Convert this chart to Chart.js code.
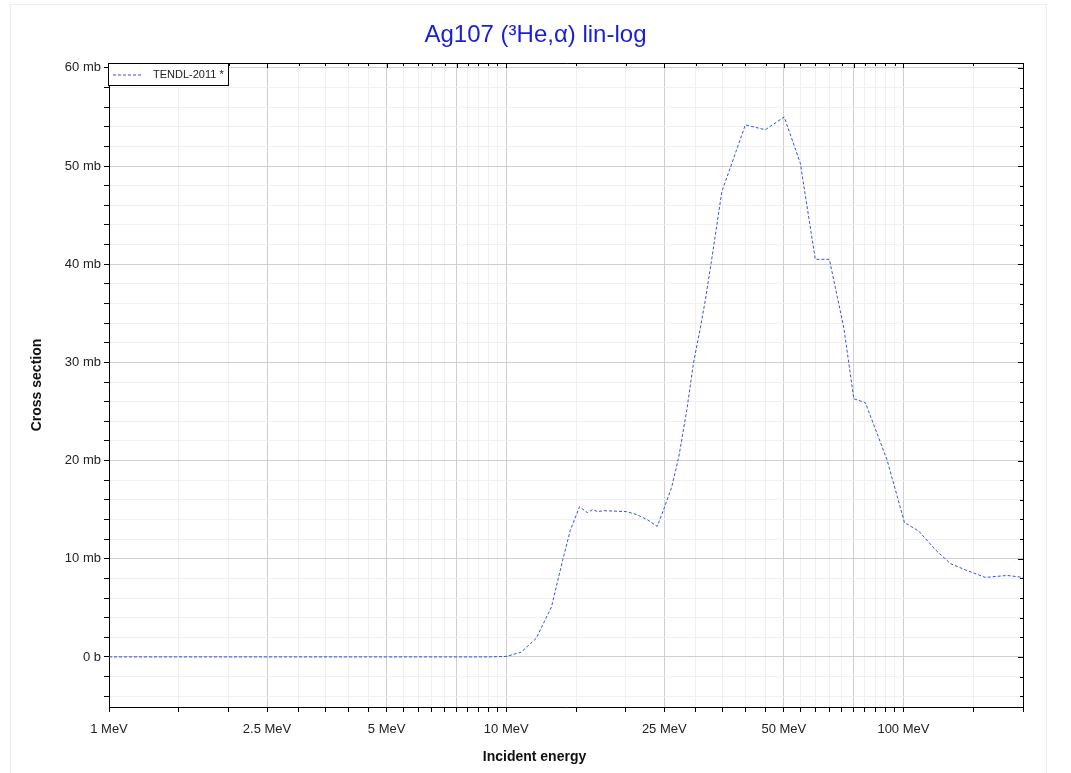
<!DOCTYPE html>
<html>
<head>
<meta charset="utf-8">
<script src="https://cdn.jsdelivr.net/npm/chart.js@4.4.7/dist/chart.umd.min.js"></script>
<style>
  html, body { margin: 0; padding: 0; background: #fff; }
  canvas { display: block; }
</style>
</head>
<body>
<canvas id="chart" width="1071" height="773"></canvas>
<script>
// incident energy (MeV) and cross section (mb)
const energies = [1, 2, 3, 4, 5, 6, 7, 8, 9, 10, 10.9, 11.9, 13.0, 13.9, 14.5, 15.3, 16.0, 16.5, 17.0, 17.6,
  20.1, 21.3, 22.6, 24.0, 24.9, 26.1, 27.2, 28.5, 29.6, 30.8, 31.7, 32.8, 34.9, 37.0, 40.0, 44.9, 50.1,
  55.0, 60.0, 65.1, 70.8, 75.0, 80.2, 90.9, 100.6, 109.4, 120.5, 131.3, 144.6, 160.9, 182.6, 200];
const crossSection = [0, 0, 0, 0, 0, 0, 0, 0, 0, 0.05, 0.48, 1.9, 5.1, 10.0, 12.9, 15.3, 14.7, 15.0, 14.8, 14.9,
  14.8, 14.5, 14.0, 13.3, 15.0, 17.3, 20.4, 25.2, 29.9, 33.5, 36.3, 40.1, 47.4, 50.3, 54.2, 53.7, 55.0,
  50.3, 40.5, 40.5, 33.5, 26.3, 25.9, 20.1, 13.7, 12.8, 10.9, 9.5, 8.8, 8.1, 8.3, 8.1];

// x ticks (MeV)
const xTicks = [1, 1.5, 2, 2.5, 3, 3.5, 4, 4.5, 5, 5.5, 6, 6.5, 7, 7.5, 8, 8.5, 9, 9.5,
  10, 15, 20, 25, 30, 35, 40, 45, 50, 55, 60, 65, 70, 75, 80, 85, 90, 95, 100, 150, 200];
const xMajor = [1, 2.5, 5, 7.5, 10, 25, 50, 75, 100];
const xLabeled = [1, 2.5, 5, 10, 25, 50, 100];

// y ticks (mb)
const yTicks = [-4, -2, 0, 2, 4, 6, 8, 10, 12, 14, 16, 18, 20, 22, 24, 26, 28, 30, 32, 34, 36, 38,
  40, 42, 44, 46, 48, 50, 52, 54, 56, 58, 60];
const yLabeled = [0, 10, 20, 30, 40, 50, 60];

const seriesName = 'TENDL-2011 *';
const lineColor = 'rgb(50, 85, 230)';
const font = 'Arial, "Liberation Sans", sans-serif';

const frame = {
  id: 'frame',
  beforeDraw(chart) {
    const ctx = chart.ctx;
    ctx.save();
    ctx.fillStyle = '#fff';
    ctx.fillRect(0, 0, chart.width, chart.height);
    ctx.strokeStyle = '#ececec';
    ctx.lineWidth = 1;
    ctx.strokeRect(10.5, 4.5, 1036, 800);
    ctx.restore();
  },
  afterDraw(chart) {
    const ctx = chart.ctx;
    const a = chart.chartArea;
    const xs = chart.scales.x, ys = chart.scales.y;
    ctx.save();
    ctx.strokeStyle = '#000';
    ctx.lineWidth = 1;
    ctx.beginPath();
    ctx.moveTo(a.left, a.top + 0.5);
    ctx.lineTo(a.right + 0.5, a.top + 0.5);
    ctx.lineTo(a.right + 0.5, a.bottom);
    ctx.stroke();
    // inward ticks on top and right
    ctx.beginPath();
    xTicks.forEach(v => {
      const px = Math.round(xs.getPixelForValue(v)) + 0.5;
      const len = xMajor.includes(v) ? 5 : 3;
      ctx.moveTo(px, a.top);
      ctx.lineTo(px, a.top + len);
    });
    yTicks.forEach(v => {
      const py = Math.round(ys.getPixelForValue(v)) + 0.5;
      const len = yLabeled.includes(v) ? 5 : 3;
      ctx.moveTo(a.right, py);
      ctx.lineTo(a.right - len, py);
    });
    ctx.stroke();

    // x axis title, centred on the page like the original
    ctx.fillStyle = '#111';
    ctx.font = 'bold 14px ' + font;
    ctx.textAlign = 'center';
    ctx.textBaseline = 'middle';
    ctx.fillText('Incident energy', chart.width / 2 - 1, 757);

    // legend box
    const bx = a.left - 0.5, by = a.top + 0.5, bw = 120, bh = 22;
    ctx.fillStyle = '#fff';
    ctx.fillRect(bx, by, bw, bh);
    ctx.strokeStyle = '#000';
    ctx.strokeRect(bx, by, bw, bh);
    ctx.strokeStyle = lineColor;
    ctx.setLineDash([3, 2]);
    ctx.beginPath();
    ctx.moveTo(a.left + 4, by + 11.5);
    ctx.lineTo(a.left + 34, by + 11.5);
    ctx.stroke();
    ctx.setLineDash([]);
    ctx.fillStyle = '#222';
    ctx.font = '11px ' + font;
    ctx.textAlign = 'left';
    ctx.fillText(seriesName, a.left + 44, by + 11.5);
    ctx.restore();
  }
};

new Chart(document.getElementById('chart'), {
  type: 'line',
  data: {
    datasets: [{
      label: seriesName,
      data: energies.map((e, i) => ({ x: e, y: crossSection[i] })),
      borderColor: lineColor,
      borderWidth: 1,
      borderDash: [3, 2],
      pointRadius: 0,
      fill: false,
      tension: 0
    }]
  },
  options: {
    responsive: false,
    animation: false,
    layout: { padding: 0 },
    plugins: {
      legend: { display: false },
      tooltip: { enabled: false },
      title: {
        display: true,
        text: 'Ag107 (³He,α) lin-log',
        color: 'rgb(25, 30, 215)',
        font: { family: font, size: 24, weight: 'normal', lineHeight: 1.2 },
        padding: { top: 21, bottom: 13.2 }
      }
    },
    scales: {
      x: {
        type: 'logarithmic',
        min: 1,
        max: 200,
        afterBuildTicks: s => { s.ticks = xTicks.map(v => ({ value: v })); },
        afterFit: s => { s.height = 66; },
        ticks: {
          autoSkip: false,
          maxRotation: 0,
          padding: 10,
          color: '#222',
          font: { family: font, size: 13 },
          callback: v => xLabeled.includes(v) ? v + ' MeV' : ''
        },
        grid: {
          color: c => xMajor.includes(c.tick && c.tick.value) ? '#cfcfcf' : '#f0f0f0',
          tickColor: '#000',
          tickLength: 5
        },
        border: { color: '#000', width: 1 }
      },
      y: {
        type: 'linear',
        min: -5.1,
        max: 60.5,
        afterBuildTicks: s => { s.ticks = yTicks.map(v => ({ value: v })); },
        afterFit: s => { s.width = 109; },
        ticks: {
          autoSkip: false,
          padding: 3,
          color: '#222',
          font: { family: font, size: 13 },
          callback: v => yLabeled.includes(v) ? (v === 0 ? '0 b' : v + ' mb') : ''
        },
        grid: {
          color: c => yLabeled.includes(c.tick && c.tick.value) ? '#cfcfcf' : '#f0f0f0',
          tickColor: '#000',
          tickLength: 5
        },
        border: { color: '#000', width: 1 },
        title: {
          display: true,
          text: 'Cross section',
          color: '#111',
          font: { family: font, size: 14, weight: 'bold' },
          padding: { top: 29, bottom: 0 }
        }
      },
      // empty right-hand box so the plot stops where the original does
      y2: {
        type: 'linear',
        position: 'right',
        display: true,
        afterFit: s => { s.width = 48; },
        ticks: { display: false },
        grid: { display: false },
        border: { display: false }
      }
    }
  },
  plugins: [frame]
});
</script>
</body>
</html>
